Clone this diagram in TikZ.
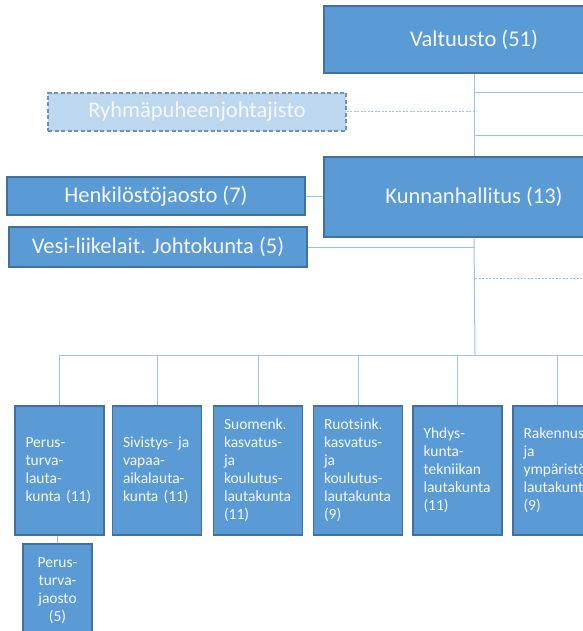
\documentclass[tikz,border=0pt]{standalone}
\usepackage{fontspec}
\setmainfont{Carlito}
\definecolor{boxblue}{HTML}{5B9BD5}
\definecolor{boxedge}{HTML}{41719C}
\definecolor{linkblue}{HTML}{9DC3E6}
\definecolor{paleblue}{HTML}{BDD7EE}
\definecolor{paleedge}{HTML}{6F91B8}
\definecolor{boxtext}{HTML}{F4F8FC}

\begin{document}
\begin{tikzpicture}[x=1pt, y=-1pt]
\useasboundingbox (0,0) rectangle (582,631);
\tikzset{OrgBox/.style ={draw=boxedge, fill=boxblue, text=boxtext, line width=1.2pt,
  inner sep=0pt, font=\fontsize{22.5}{26}\selectfont}}
\tikzset{LautaBox/.style ={OrgBox, minimum width=89pt, minimum height=129pt,
  text width=68pt, align=left, font=\fontsize{15.5}{18}\selectfont}}
\tikzset{Link/.style ={draw=linkblue, line width=1pt}}
% top level
\node[OrgBox, minimum width=300pt, minimum height=67pt] (valt) at (474,39.5) {Valtuusto (51)};
\node[OrgBox, draw=paleedge, fill=paleblue, dash pattern=on 4pt off 2.5pt,
  minimum width=298pt, minimum height=38pt] (ryhma) at (197,112) {Ryhmäpuheenjohtajisto};
\node[OrgBox, minimum width=300pt, minimum height=80pt] (kh) at (474,197) {Kunnanhallitus (13)};
\node[OrgBox, minimum width=298pt, minimum height=38pt] (henk) at (156,196) {Henkilöstöjaosto (7)};
\node[OrgBox, minimum width=298pt, minimum height=40pt] (vesi) at (158,247) {Vesi-liikelait. Johtokunta (5)};
% lautakunnat
\node[LautaBox] (b1) at (59.5,470.5) {Perus-\\turva-\\lauta-\\kunta (11)};
\node[LautaBox] (b2) at (157,470.5) {Sivistys- ja\\vapaa-\\aikalauta-\\kunta (11)};
\node[LautaBox] (b3) at (258,470.5) {Suomenk.\\kasvatus-\\ja\\koulutus-\\lautakunta\\(11)};
\node[LautaBox] (b4) at (358,470.5) {Ruotsink.\\kasvatus-\\ja\\koulutus-\\lautakunta\\(9)};
\node[LautaBox] (b5) at (457.5,470.5) {Yhdys-\\kunta-\\tekniikan\\lautakunta\\(11)};
\node[LautaBox] (b6) at (557.5,470.5) {Rakennus-\\ja\\ympäristö-\\lautakunta\\(9)};
\node[OrgBox, minimum width=69pt, minimum height=94pt, align=center,
  font=\fontsize{15.5}{18}\selectfont] (sub) at (57.5,591) {Perus-\\turva-\\jaosto\\(5)};
% joints
\coordinate (j1) at (475,93);
\coordinate (r1) at (590,93);
\coordinate (j2) at (475,112);
\coordinate (j3) at (475,136);
\coordinate (r3) at (590,136);
\coordinate (j4) at (475,247);
\coordinate (j5) at (475,278);
\coordinate (r5) at (590,278);
\coordinate (bus) at (475,355);
\coordinate (busR) at (590,355);
% connectors
\draw[Link] (valt.south) -- (kh.north);
\draw[Link] (j1) -- (r1);
\draw[Link] (j3) -- (r3);
\draw[Link, dash pattern=on 2pt off 1.5pt] (ryhma.east) -- (j2);
\draw[Link] (henk.east) -- (henk.east -| kh.west);
\draw[Link] (vesi.east) -- (j4);
\draw[Link] (kh.south) -- (bus);
\draw[Link, dash pattern=on 2pt off 1.5pt] (j5) -- (r5);
\draw[Link] (b1.north |- bus) -- (busR);
\draw[Link] (b1.north) -- (b1.north |- bus);
\draw[Link] (b2.north) -- (b2.north |- bus);
\draw[Link] (b3.north) -- (b3.north |- bus);
\draw[Link] (b4.north) -- (b4.north |- bus);
\draw[Link] (b5.north) -- (b5.north |- bus);
\draw[Link] (b6.north) -- (b6.north |- bus);
\draw[Link] (b1.south -| sub.north) -- (sub.north);
\end{tikzpicture}
\end{document}
